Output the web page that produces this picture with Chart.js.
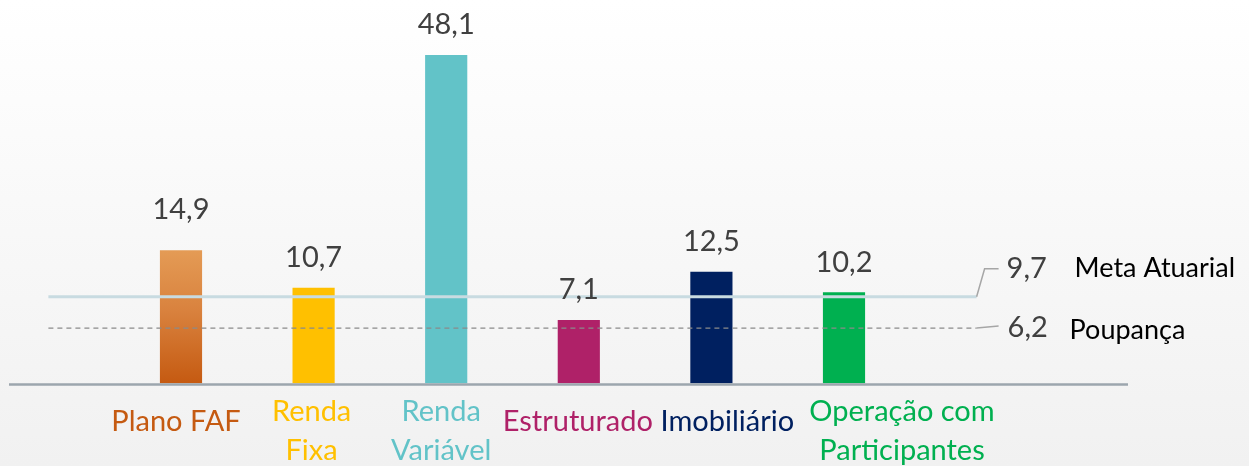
<!DOCTYPE html>
<html>
<head>
<meta charset="utf-8">
<script src="https://cdn.jsdelivr.net/npm/chart.js@4.4.1/dist/chart.umd.min.js"></script>
<style>
  html, body { margin: 0; padding: 0; background: #fff; }
  #wrap { width: 1249px; height: 466px; position: relative; }
</style>
</head>
<body>
<div id="wrap"><canvas id="rentChart"></canvas></div>
<script>
// Dados do gráfico (rentabilidade %)
const categorias = [
    ['Plano FAF'],
    ['Renda', 'Fixa'],
    ['Renda', 'Variável'],
    ['Estruturado'],
    ['Imobiliário'],
    ['Operação com', 'Participantes'],
];
const valores = [14.9, 10.7, 48.1, 7.1, 12.5, 10.2];
const coresBarras = ['#C55A11', '#FFC000', '#62C3C8', '#AF2168', '#002060', '#00B050'];

// Linhas de referência
const referenciaNomes = ['Meta Atuarial', 'Poupança'];
const referenciaValores = [9.7, 6.2];

// Eixo Y cortado: a barra de Renda Variável ultrapassa a área do gráfico
const eixoYMax = 36.75;

const fmt = v => v.toFixed(1).replace('.', ',');

// =====================================================================
// PLUGINS
// =====================================================================

const fundoPlugin = {
    id: 'fundo',
    beforeDraw(chart) {
        const { ctx, width, height } = chart;
        const g = ctx.createLinearGradient(0, 0, 0, height);
        g.addColorStop(0, '#ffffff');
        g.addColorStop(1, '#f1f1f1');
        ctx.save();
        ctx.fillStyle = g;
        ctx.fillRect(0, 0, width, height);
        ctx.restore();
    },
};

const extrasPlugin = {
    id: 'extras',
    afterDatasetsDraw(chart) {
        const { ctx } = chart;
        const x = chart.scales.x;
        const y = chart.scales.y;
        const y0 = y.getPixelForValue(0);

        ctx.save();

        // linha do eixo
        ctx.strokeStyle = '#9ca6ae';
        ctx.lineWidth = 2.5;
        ctx.beginPath();
        ctx.moveTo(9, y0 + 1);
        ctx.lineTo(1128, y0 + 1);
        ctx.stroke();

        // linhas de referência
        const xIni = x.getPixelForValue(-1);
        const xFim = x.getPixelForValue(categorias.length);

        const yMeta = y.getPixelForValue(referenciaValores[0]);
        ctx.strokeStyle = '#c8dbe1';
        ctx.lineWidth = 3;
        ctx.beginPath();
        ctx.moveTo(xIni, yMeta);
        ctx.lineTo(xFim, yMeta);
        ctx.stroke();

        const yPoup = y.getPixelForValue(referenciaValores[1]);
        ctx.strokeStyle = '#8a8a8a';
        ctx.lineWidth = 1.3;
        ctx.setLineDash([5, 4]);
        ctx.beginPath();
        ctx.moveTo(xIni, yPoup);
        ctx.lineTo(xFim, yPoup);
        ctx.stroke();
        ctx.setLineDash([]);

        // guias dos rótulos
        const yMetaLbl = yMeta - 28;
        ctx.strokeStyle = '#a6a6a6';
        ctx.lineWidth = 1.5;
        ctx.beginPath();
        ctx.moveTo(xFim, yMeta);
        ctx.lineTo(xFim + 8, yMetaLbl);
        ctx.lineTo(xFim + 22, yMetaLbl);
        ctx.stroke();
        ctx.beginPath();
        ctx.moveTo(xFim, yPoup);
        ctx.lineTo(xFim + 22, yPoup - 2);
        ctx.stroke();

        ctx.textBaseline = 'middle';
        ctx.textAlign = 'left';
        ctx.font = '29px Lato';
        ctx.fillStyle = '#404040';
        ctx.fillText(fmt(referenciaValores[0]), xFim + 30, yMetaLbl);
        ctx.fillText(fmt(referenciaValores[1]), xFim + 31, yPoup);
        ctx.font = '27px Lato';
        ctx.fillStyle = '#000000';
        ctx.fillText(referenciaNomes[0], xFim + 98, yMetaLbl);
        ctx.fillText(referenciaNomes[1], xFim + 93, yPoup + 2);

        // valores acima das barras
        const meta = chart.getDatasetMeta(0);
        const elevar = [11, 0, 0, 0, 0, 0];
        ctx.textAlign = 'center';
        ctx.font = '29px Lato';
        ctx.fillStyle = '#404040';
        meta.data.forEach((bar, i) => {
            const topo = Math.max(bar.y, chart.chartArea.top);
            ctx.fillText(fmt(valores[i]), bar.x, topo - 30 - elevar[i]);
        });

        // rótulos das categorias
        const deslocar = [-5, -2, -5, -1, 16, 58];
        ctx.font = '29px Lato';
        categorias.forEach((linhas, i) => {
            const cx = x.getPixelForValue(i) + deslocar[i];
            let cy = 422 - (linhas.length - 1) * 10;
            ctx.fillStyle = coresBarras[i];
            linhas.forEach(l => {
                ctx.fillText(l, cx, cy);
                cy += 39;
            });
        });

        ctx.restore();
    },
};

// =====================================================================
// CHART
// =====================================================================

const ctx = document.getElementById('rentChart');

new Chart(ctx, {
    type: 'bar',
    data: {
        labels: categorias,
        datasets: [{
            data: valores,
            backgroundColor(c) {
                if (c.dataIndex !== 0) return coresBarras[c.dataIndex];
                const area = c.chart.chartArea;
                if (!area) return coresBarras[0];
                const ys = c.chart.scales.y;
                const g = c.chart.ctx.createLinearGradient(0, ys.getPixelForValue(valores[0]), 0, ys.getPixelForValue(0));
                g.addColorStop(0, '#e49b55');
                g.addColorStop(0.45, '#d9823e');
                g.addColorStop(1, '#c55a11');
                return g;
            },
            borderWidth: 0,
            barPercentage: 0.318,
            categoryPercentage: 1,
        }],
    },
    options: {
        responsive: true,
        maintainAspectRatio: false,
        animation: false,
        layout: { padding: { left: 114.7, right: 338.7, top: 55, bottom: 82.5 } },
        plugins: {
            legend: { display: false },
            tooltip: { enabled: false },
        },
        scales: {
            x: { display: false, grid: { display: false } },
            y: { display: false, min: 0, max: eixoYMax, grid: { display: false } },
        },
    },
    plugins: [fundoPlugin, extrasPlugin],
});
</script>
</body>
</html>
